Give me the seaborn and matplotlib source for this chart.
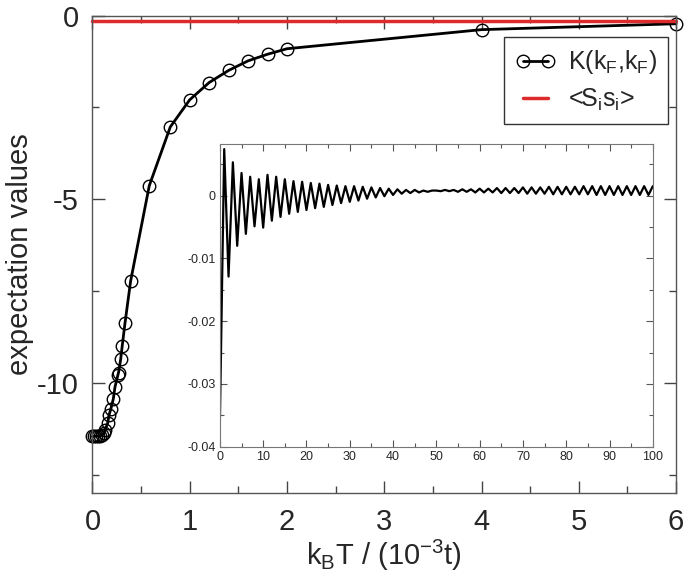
import numpy as np
import pandas as pd
import matplotlib
matplotlib.use("Agg")
import matplotlib.pyplot as plt
from matplotlib.ticker import MultipleLocator
import seaborn as sns

# ---- data ----
temps = [0.0, 0.02, 0.04, 0.06, 0.08, 0.10, 0.12, 0.13, 0.156, 0.17, 0.19,
         0.214, 0.231, 0.262, 0.268, 0.29, 0.306, 0.334, 0.392, 0.584,
         0.8, 1.0, 1.2, 1.4, 1.6, 1.8, 2.0, 4.0, 6.0]
k_vals = [-11.46, -11.46, -11.45, -11.45, -11.44, -11.42, -11.36, -11.28,
          -11.10, -10.88, -10.70, -10.44, -10.12, -9.78, -9.72, -9.36, -8.99,
          -8.38, -7.23, -4.63, -3.03, -2.29, -1.82, -1.49, -1.23, -1.05,
          -0.90, -0.38, -0.22]
spin_t = [0.0, 6.0]
spin_vals = [-0.14, -0.14]

inset_x = list(range(101))
inset_y = [-0.0360, 0.0074, -0.0129, 0.0053, -0.0080, 0.0036, -0.0061, 0.0030,
           -0.0049, 0.0026, -0.0051, 0.0033, -0.0040, 0.0030, -0.0034, 0.0026,
           -0.0029, 0.0023, -0.0026, 0.0022, -0.0023, 0.0020, -0.0020, 0.0019,
           -0.0018, 0.0017, -0.0015, 0.0016, -0.0012, 0.0015, -0.0010, 0.0015,
           -0.0008, 0.0014, -0.0005, 0.0013, -0.0003, 0.0012, -0.0001, 0.0011,
           0.0001, 0.0010, 0.0003, 0.0009, 0.0004, 0.0009, 0.0005, 0.0008,
           0.0006, 0.0008, 0.0008, 0.0007, 0.0009, 0.0007, 0.0009, 0.0006,
           0.0010, 0.0006, 0.0010, 0.0005, 0.0011, 0.0005, 0.0011, 0.0005,
           0.0012, 0.0004, 0.0012, 0.0004, 0.0012, 0.0004, 0.0013, 0.0003,
           0.0013, 0.0003, 0.0013, 0.0003, 0.0014, 0.0002, 0.0014, 0.0002,
           0.0014, 0.0002, 0.0014, 0.0002, 0.0015, 0.0002, 0.0015, 0.0001,
           0.0015, 0.0001, 0.0015, 0.0001, 0.0015, 0.0001, 0.0015, 0.0001,
           0.0015, 0.0001, 0.0015, 0.0001, 0.0015]

main_xticks = [0, 1, 2, 3, 4, 5, 6]
main_yticks = [0, -5, -10]
inset_xticks = [0, 10, 20, 30, 40, 50, 60, 70, 80, 90, 100]
inset_yticks = [0, -0.01, -0.02, -0.03, -0.04]
inset_yticklabels = ["0", "-0.01", "-0.02", "-0.03", "-0.04"]

# ---- style ----
sns.set_style("ticks")
plt.rcParams['font.family'] = ['Liberation Sans', 'DejaVu Sans']
plt.rcParams['mathtext.default'] = 'regular'
plt.rcParams['axes.unicode_minus'] = False

fig = plt.figure(figsize=(6.85, 5.81), dpi=100)
ax = fig.add_axes([0.135, 0.1515, 0.852, 0.8215])

df_main = pd.DataFrame({"T": temps, "K": k_vals})
df_spin = pd.DataFrame({"T": spin_t, "S": spin_vals})

sns.lineplot(data=df_main, x="T", y="K", ax=ax, color="black", lw=2.0,
             marker="o", markersize=9, markerfacecolor="none",
             markeredgecolor="black", markeredgewidth=1.0,
             label=r"K(k$_F$,k$_F$)", sort=True)
sns.lineplot(data=df_spin, x="T", y="S", ax=ax, color="#dd2b2b", lw=2.5,
             label=r"<S$_i$s$_i$>")
for l in ax.lines:
    l.set_clip_on(False)

ax.set_xlim(0, 6)
ax.set_ylim(-13, 0)
ax.set_xticks(main_xticks)
ax.set_yticks(main_yticks)
ax.set_yticklabels([str(v) for v in main_yticks])
ax.xaxis.set_minor_locator(MultipleLocator(0.5))
ax.yaxis.set_minor_locator(MultipleLocator(2.5))
ax.tick_params(which="both", direction="in", top=True, right=True,
               labelsize=21, color="#444444")
ax.tick_params(axis="x", which="both", pad=11)
ax.tick_params(axis="y", which="both", pad=10)
ax.tick_params(which="major", length=9, width=1.0)
ax.tick_params(which="minor", length=5, width=1.0)
for s in ax.spines.values():
    s.set_color("#555555")
    s.set_linewidth(1.0)
ax.set_xlabel(r"k$_B$T / (10$^{-3}$t)", fontsize=21, labelpad=1)
ax.set_ylabel("expectation values", fontsize=21)
ax.yaxis.set_label_coords(-0.10, 0.5)

leg = ax.legend(loc="upper right", bbox_to_anchor=(0.986, 0.955),
                fontsize=18, frameon=True, fancybox=False, numpoints=2,
                handlelength=1.6, handletextpad=0.5, borderpad=0.45,
                labelspacing=0.4, borderaxespad=0)
leg.get_frame().set_edgecolor("black")
leg.get_frame().set_linewidth(1.0)

# ---- inset ----
axi = fig.add_axes([0.321, 0.2311, 0.632, 0.5209])
df_in = pd.DataFrame({"n": inset_x, "v": inset_y})
sns.lineplot(data=df_in, x="n", y="v", ax=axi, color="black", lw=1.6)
axi.set_xlim(0, 100)
axi.set_ylim(-0.04, 0.0082)
axi.set_xticks(inset_xticks)
axi.set_yticks(inset_yticks)
axi.set_yticklabels(inset_yticklabels)
axi.xaxis.set_minor_locator(MultipleLocator(5))
axi.yaxis.set_minor_locator(MultipleLocator(0.005))
axi.tick_params(which="both", direction="in", top=True, right=True,
                labelsize=9, color="#555555", pad=3)
axi.tick_params(which="major", length=5, width=0.8)
axi.tick_params(which="minor", length=3, width=0.8)
for s in axi.spines.values():
    s.set_color("#777777")
    s.set_linewidth(0.8)
axi.set_xlabel("")
axi.set_ylabel("")

fig.savefig("out.png", dpi=100)
